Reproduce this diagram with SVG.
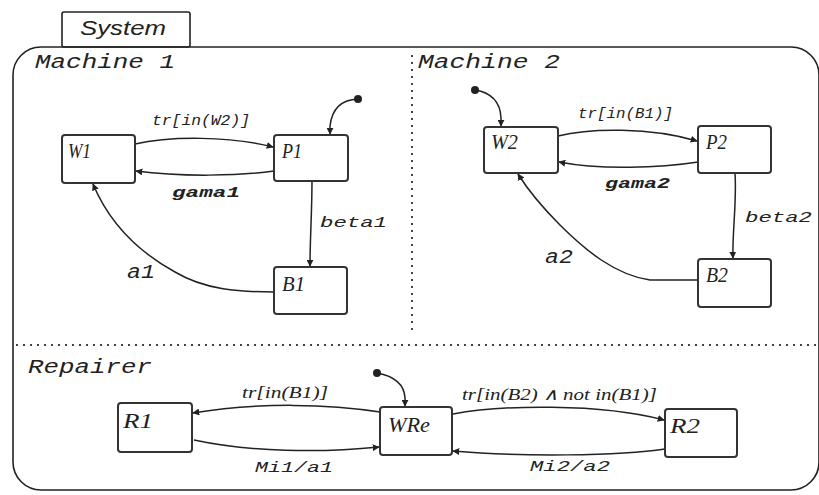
<svg xmlns="http://www.w3.org/2000/svg" width="819" height="495" viewBox="0 0 819 495">
<style>
.bg{fill:#fff}
.frame{fill:none;stroke:#222;stroke-width:1.6}
.div{fill:none;stroke:#444;stroke-width:2;stroke-dasharray:2 5}
.node rect{fill:#fff;stroke:#333;stroke-width:2}
.nl{font-family:"Liberation Serif",serif;font-style:italic;fill:#222;font-size:22px}
.big{font-family:"Liberation Serif",serif;font-style:italic;fill:#222;font-size:20px}
.mono{font-family:"Liberation Mono",monospace;fill:#222}
.sec{font-size:20px;font-style:italic}
.edge{fill:none;stroke:#222;stroke-width:1.5}
.el{font-family:"Liberation Mono",monospace;fill:#222;font-size:15px;font-style:italic}
.bold{font-weight:bold}
.ser{font-family:"Liberation Serif",serif;font-style:italic;fill:#222;font-size:17px}
</style>
<defs>
<marker id="ah" viewBox="0 0 10 10" refX="9" refY="5" markerWidth="7" markerHeight="7" orient="auto" markerUnits="userSpaceOnUse">
<path d="M0,0 L10,5 L0,10 z" fill="#222"/>
</marker>
</defs>
<rect class="bg" x="0" y="0" width="819" height="495"/>
<g id="frame">
<rect class="frame" x="62" y="12" width="128" height="35" rx="2"/>
<text x="80" y="35" font-family="Liberation Sans,sans-serif" font-style="italic" font-size="20" fill="#222" textLength="86" lengthAdjust="spacingAndGlyphs">System</text>
<rect class="frame" x="13" y="47" width="806" height="443" rx="28"/>
<line class="div" x1="412" y1="55" x2="412" y2="335"/>
<line class="div" x1="16" y1="345" x2="818" y2="345"/>
<text class="mono sec" x="35" y="68" textLength="140" lengthAdjust="spacingAndGlyphs">Machine 1</text>
<text class="mono sec" x="418" y="68" textLength="142" lengthAdjust="spacingAndGlyphs">Machine 2</text>
<text class="mono sec" x="28" y="373" textLength="124" lengthAdjust="spacingAndGlyphs">Repairer</text>
</g>
<g id="connectors">
<!-- Machine 1 -->
<circle cx="358" cy="99" r="4" fill="#222"/>
<path class="edge" d="M358,99 Q333,100 330,126 L330,134" marker-end="url(#ah)"/>
<path class="edge" d="M135,144 C170,136 230,136 273,147" marker-end="url(#ah)"/>
<text class="el" x="152" y="125" textLength="98" lengthAdjust="spacingAndGlyphs">tr[in(W2)]</text>
<path class="edge" d="M274,171 C240,176 180,177 136,171" marker-end="url(#ah)"/>
<text class="el bold" x="172" y="197" font-size="17" textLength="68" lengthAdjust="spacingAndGlyphs">gama1</text>
<path class="edge" d="M312,181 C312,210 310,240 310,266" marker-end="url(#ah)"/>
<text class="el" x="320" y="227" font-size="17" textLength="67" lengthAdjust="spacingAndGlyphs">beta1</text>
<path class="edge" d="M274,292 C240,292 205,290 175,272 C135,250 108,220 93,184" marker-end="url(#ah)"/>
<text class="mono" x="127" y="278" font-size="20" font-style="italic" textLength="28" lengthAdjust="spacingAndGlyphs">a1</text>
<!-- Machine 2 -->
<circle cx="475" cy="90" r="4" fill="#222"/>
<path class="edge" d="M475,90 Q500,94 501,118 L501,126" marker-end="url(#ah)"/>
<path class="edge" d="M558,136 C590,128 650,127 697,141" marker-end="url(#ah)"/>
<text class="el" x="578" y="118" textLength="95" lengthAdjust="spacingAndGlyphs">tr[in(B1)]</text>
<path class="edge" d="M698,162 C660,168 600,170 559,162" marker-end="url(#ah)"/>
<text class="el bold" x="605" y="188" font-size="17" textLength="65" lengthAdjust="spacingAndGlyphs">gama2</text>
<path class="edge" d="M735,173 C737,200 732,235 733,258" marker-end="url(#ah)"/>
<text class="el" x="745" y="222" font-size="17" textLength="67" lengthAdjust="spacingAndGlyphs">beta2</text>
<path class="edge" d="M698,280 L650,280 C615,275 585,250 560,225 C540,205 528,190 518,174" marker-end="url(#ah)"/>
<text class="mono" x="545" y="263" font-size="20" font-style="italic" textLength="28" lengthAdjust="spacingAndGlyphs">a2</text>
<!-- Repairer -->
<circle cx="377" cy="373" r="4" fill="#222"/>
<path class="edge" d="M377,373 Q404,378 405,398 L405,406" marker-end="url(#ah)"/>
<path class="edge" d="M380,412 C330,404 260,402 193,413" marker-end="url(#ah)"/>
<text class="ser" x="242" y="398" textLength="86" lengthAdjust="spacingAndGlyphs">tr[in(B1)]</text>
<path class="edge" d="M194,440 C250,452 320,453 379,447" marker-end="url(#ah)"/>
<text class="el" x="255" y="472" font-size="16" textLength="78" lengthAdjust="spacingAndGlyphs">Mi1/a1</text>
<path class="edge" d="M453,414 C500,405 600,403 664,420" marker-end="url(#ah)"/>
<text class="ser" x="462" y="400" textLength="195" lengthAdjust="spacingAndGlyphs">tr[in(B2) ∧ not in(B1)]</text>
<path class="edge" d="M665,449 C620,456 520,457 453,451" marker-end="url(#ah)"/>
<text class="el" x="530" y="471" font-size="16" textLength="80" lengthAdjust="spacingAndGlyphs">Mi2/a2</text>
</g>
<g id="W1" class="node"><rect x="62" y="135" width="73" height="48" rx="3"/><text class="nl" x="68" y="158" textLength="23" lengthAdjust="spacingAndGlyphs">W1</text></g>
<g id="P1" class="node"><rect x="274" y="135" width="74" height="46" rx="3"/><text class="nl" x="282" y="158" textLength="20" lengthAdjust="spacingAndGlyphs">P1</text></g>
<g id="B1" class="node"><rect x="274" y="267" width="73" height="47" rx="3"/><text class="nl" x="282" y="291" textLength="23" lengthAdjust="spacingAndGlyphs">B1</text></g>
<g id="W2" class="node"><rect x="484" y="127" width="74" height="46" rx="3"/><text class="nl" x="491" y="149" textLength="27" lengthAdjust="spacingAndGlyphs">W2</text></g>
<g id="P2" class="node"><rect x="698" y="126" width="73" height="47" rx="3"/><text class="nl" x="706" y="149" textLength="21" lengthAdjust="spacingAndGlyphs">P2</text></g>
<g id="B2" class="node"><rect x="698" y="259" width="73" height="48" rx="3"/><text class="nl" x="706" y="282" textLength="22" lengthAdjust="spacingAndGlyphs">B2</text></g>
<g id="R1" class="node"><rect x="118" y="403" width="74" height="49" rx="3"/><text class="big" x="123" y="428" textLength="30" lengthAdjust="spacingAndGlyphs">R1</text></g>
<g id="WRe" class="node"><rect x="380" y="407" width="72" height="48" rx="3"/><text class="big" x="388" y="432" textLength="42" lengthAdjust="spacingAndGlyphs">WRe</text></g>
<g id="R2" class="node"><rect x="665" y="409" width="72" height="48" rx="3"/><text class="big" x="670" y="433" textLength="30" lengthAdjust="spacingAndGlyphs">R2</text></g>
</svg>
